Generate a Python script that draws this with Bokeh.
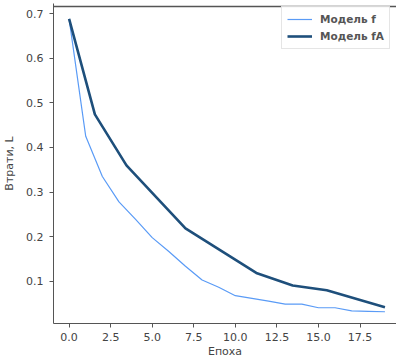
from bokeh.plotting import figure
from bokeh.models import Range1d, FixedTicker, PrintfTickFormatter, Span
from bokeh.embed import file_html
from bokeh.resources import INLINE

# data
epochs_f = list(range(20))
loss_f = [0.688, 0.425, 0.335, 0.278, 0.239, 0.198, 0.167, 0.134, 0.103, 0.087,
          0.068, 0.062, 0.056, 0.049, 0.049, 0.041, 0.041, 0.034, 0.033, 0.032]
epochs_fa = [0, 1.55, 3.45, 7.0, 11.26, 13.45, 15.5, 19.0]
loss_fa = [0.688, 0.474, 0.360, 0.219, 0.119, 0.091, 0.080, 0.042]
x_ticks = [0, 2.5, 5, 7.5, 10, 12.5, 15, 17.5]
y_ticks = [0.1, 0.2, 0.3, 0.4, 0.5, 0.6, 0.7]
label_f = "Модель f"
label_fa = "Модель fA"
x_title = "Епоха"
y_title = "Втрати, L"

FONT = "DejaVu Sans"
GRAY = "#444444"
SPINE = "#555555"

p = figure(width=396, height=360, output_backend="svg", toolbar_location=None,
           x_range=Range1d(-0.939, 19.695), y_range=Range1d(0.0057, 0.7225),
           min_border_left=51, min_border_right=0, min_border_top=3, min_border_bottom=0)
p.outline_line_color = None
p.grid.grid_line_color = None
p.background_fill_color = "white"

p.line(epochs_f, loss_f, line_color="#5a9bf6", line_width=1.2, legend_label=label_f)
p.line(epochs_fa, loss_fa, line_color="#1e4f7b", line_width=2.6, legend_label=label_fa)

for ax in (p.xaxis[0], p.yaxis[0]):
    ax.axis_line_color = SPINE
    ax.major_tick_line_color = SPINE
    ax.minor_tick_line_color = None
    ax.major_tick_out = 4
    ax.major_tick_in = 0
    ax.major_label_text_font = FONT
    ax.major_label_text_font_size = "11px"
    ax.major_label_text_color = GRAY
    ax.axis_label_text_font = FONT
    ax.axis_label_text_font_size = "11px"
    ax.axis_label_text_font_style = "normal"
    ax.axis_label_text_color = GRAY
    ax.formatter = PrintfTickFormatter(format="%.1f")

p.xaxis[0].ticker = FixedTicker(ticks=x_ticks)
p.yaxis[0].ticker = FixedTicker(ticks=y_ticks)
p.xaxis[0].axis_label = x_title
p.yaxis[0].axis_label = y_title
p.xaxis[0].major_label_standoff = 5
p.xaxis[0].axis_label_standoff = 1
p.yaxis[0].major_label_standoff = 6
p.yaxis[0].axis_label_standoff = 7

# top spine (screen units are measured up from the bottom of the plotting area)
p.add_layout(Span(location=317, location_units="screen", dimension="width",
                  line_color=SPINE, line_width=1.5, level="overlay"))

lg = p.legend[0]
lg.location = (228, 274)
lg.label_text_font = FONT
lg.label_text_font_size = "10.5px"
lg.label_text_font_style = "bold"
lg.label_text_color = "#555555"
lg.border_line_color = "#cccccc"
lg.border_line_width = 1
lg.background_fill_alpha = 0.85
lg.padding = 5
lg.spacing = 3
lg.margin = 0
lg.glyph_width = 25
lg.glyph_height = 14
lg.label_height = 14
lg.label_standoff = 8

open("out.html", "w").write(file_html(p, INLINE))
